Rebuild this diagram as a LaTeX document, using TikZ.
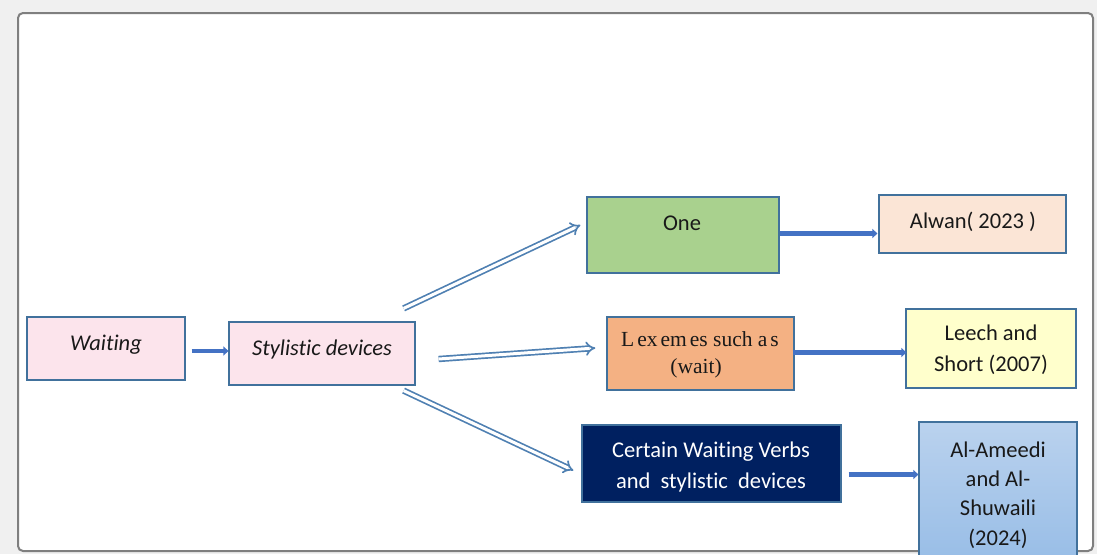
\documentclass[tikz,border=0pt]{standalone}
\usepackage{fontspec}
\setmainfont{Carlito}[Ligatures=NoCommon]
\newfontfamily\serifx{Liberation Serif}
\usetikzlibrary{arrows.meta,calc}
\definecolor{bordc}{HTML}{41719C}
\definecolor{pinkc}{HTML}{FCE4EC}
\definecolor{greenc}{HTML}{A9D18E}
\definecolor{peachc}{HTML}{FBE5D6}
\definecolor{orangec}{HTML}{F4B183}
\definecolor{yellowc}{HTML}{FFFFCC}
\definecolor{navyc}{HTML}{002060}
\definecolor{bluetop}{HTML}{BAD2EE}
\definecolor{bluebot}{HTML}{96BCE6}
\definecolor{arrc}{HTML}{4472C4}
\definecolor{hollowc}{HTML}{4F80B2}
\definecolor{framec}{HTML}{7F7F7F}
\definecolor{bgc}{HTML}{F0F0F0}
\tikzset{
  box/.style={draw=bordc, line width=1.2pt, rectangle, inner sep=0pt},
  txt/.style={anchor=base, inner sep=0pt, font=\fontsize{22.5}{27}\selectfont, text=black!90},
  thickarrow/.style={draw=arrc, line width=4.5pt, -{Triangle[length=5pt,width=9pt]}},
  hollowarrow/.style={draw=hollowc, line width=1.7pt, double=white, double distance=3pt, -{Implies}}
}
\begin{document}
\begin{tikzpicture}[x=1pt,y=-1pt]
\useasboundingbox (0,0) rectangle (1097,554);
\fill[bgc] (0,0) rectangle (1097,554);
\fill[white, rounded corners=5pt] (18,13) rectangle (1093,551);

% boxes
\node[box, fill=pinkc, minimum width=158pt, minimum height=63pt] (wait) at (106,348.5) {};
\node[box, fill=pinkc, minimum width=186pt, minimum height=63pt] (sty) at (322,353.5) {};
\node[box, fill=greenc, minimum width=192pt, minimum height=76pt] (one) at (683,235) {};
\node[box, fill=peachc, minimum width=187pt, minimum height=58pt] (alwan) at (972.5,224) {};
\node[box, fill=orangec, minimum width=187pt, minimum height=73pt] (lex) at (700.5,353.5) {};
\node[box, fill=yellowc, minimum width=170pt, minimum height=79pt] (leech) at (991,348.5) {};
\node[box, fill=navyc, minimum width=259pt, minimum height=77pt] (cert) at (711.5,463.5) {};

% frame
\draw[framec, line width=2pt, rounded corners=5pt] (18,13) rectangle (1093,551);

\node[box, top color=bluetop, bottom color=bluebot, minimum width=158pt, minimum height=148pt] (ame) at (998,496) {};

% texts
\node[txt] (t-wait) at (106,350) {\itshape Waiting};
\node[txt] (t-sty) at (322,355) {\itshape Stylistic devices};
\node[txt] (t-one) at (682,230) {One};
\node[txt] (t-alwan) at (973,228) {Alwan( 2023 )};
\node[txt, font=\serifx\fontsize{21.5}{25}\selectfont] (t-lex1) at (700,346) {L\kern3pt ex\kern3pt em\kern3pt es such a\kern3pt s};
\node[txt, font=\serifx\fontsize{21.5}{25}\selectfont] (t-lex2) at (696,373) {(wait)};
\node[txt] (t-leech1) at (991,340) {Leech and};
\node[txt] (t-leech2) at (991,371) {Short (2007)};
\node[txt, text=white] (t-cert1) at (711,457) {Certain Waiting Verbs};
\node[txt, text=white] (t-cert2) at (711,488) {and\ \ stylistic\ \ devices};
\node[txt] (t-ame1) at (998,457) {Al-Ameedi};
\node[txt] (t-ame2) at (998,486) {and Al-};
\node[txt] (t-ame3) at (998,515) {Shuwaili};
\node[txt] (t-ame4) at (998,545) {(2024)};

% thick arrows
\draw[thickarrow] ($(wait.east)+(6,2.5)$) -- ($(sty.west)+(0,-2.5)$);
\draw[thickarrow] ($(one.east)+(0,-1.5)$) -- ($(alwan.west)+(-1,9.5)$);
\draw[thickarrow] ($(lex.east)+(-2,-1)$) -- ($(leech.west)+(1,4)$);
\draw[thickarrow] ($(cert.east)+(7,11)$) -- ($(ame.west)+(0,-21.5)$);

% hollow arrows
\draw[hollowarrow] ($(sty.north east)+(-12,-13)$) -- ($(one.west)+(-6,-10)$);
\draw[hollowarrow] ($(sty.east)+(23,5.5)$) -- ($(lex.west)+(-11,-5.5)$);
\draw[hollowarrow] ($(sty.south east)+(-12,5)$) -- ($(cert.west)+(-8,7)$);
\end{tikzpicture}
\end{document}
